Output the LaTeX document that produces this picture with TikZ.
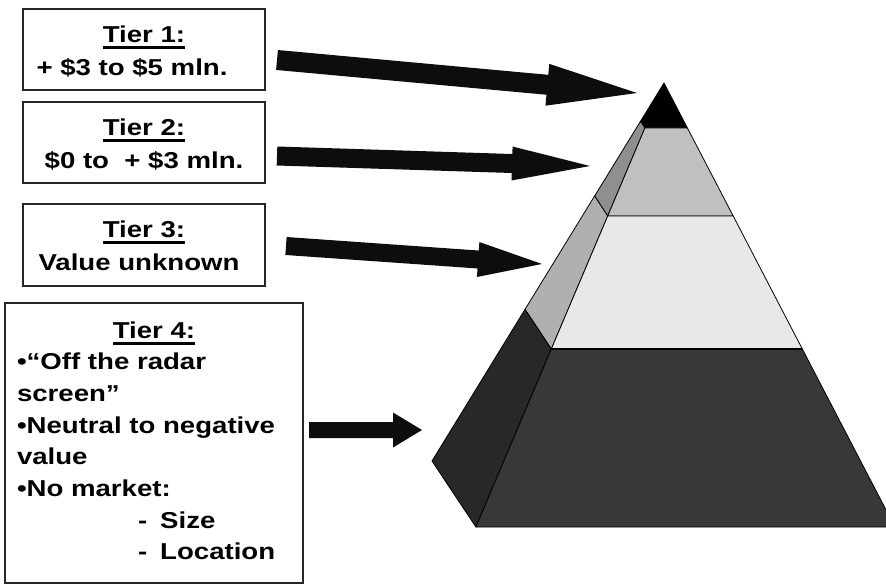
\documentclass[tikz,border=0pt]{standalone}
\usepackage{fontspec}
\setmainfont{Liberation Sans}[FakeStretch=1.2]
\usetikzlibrary{calc}
\definecolor{arrowblack}{HTML}{0D0D0D}
\definecolor{ftwo}{HTML}{C0C0C0}
\definecolor{ltwo}{HTML}{8F8F8F}
\definecolor{fthree}{HTML}{E8E8E8}
\definecolor{lthree}{HTML}{B0B0B0}
\definecolor{ffour}{HTML}{383838}
\definecolor{lfour}{HTML}{282828}
\newsavebox\tierbox
\newcommand\tierul[1]{\sbox\tierbox{#1}\rlap{\usebox\tierbox}\rule[-6.7pt]{\wd\tierbox}{3pt}}
% start, end, shaft half width, head half width, head length
\newcommand\blockarrow[5]{%
  \coordinate (hb) at ($(#2)!#5!(#1)$);
  \fill[arrowfill] ($(#1)!#3!90:(#2)$) -- ($(hb)!#3!90:(#2)$) -- ($(hb)!#4!90:(#2)$)
    -- (#2) -- ($(hb)!#4!-90:(#2)$) -- ($(hb)!#3!-90:(#2)$) -- ($(#1)!#3!-90:(#2)$) -- cycle;}
\begin{document}
\begin{tikzpicture}[x=1pt,y=-1pt,
  tierbox/.style={draw=black!85, line width=1.6pt, fill=white, inner sep=0pt, align=center,
    text height=51.6pt, text depth=0pt,
    font=\fontsize{23}{33}\selectfont\bfseries},
  arrowfill/.style={fill=arrowblack},
  face/.style={draw=black, line width=0.8pt, line join=round}]
\useasboundingbox (0,0) rectangle (886,585);
\clip (0,0) rectangle (886,585);

% boxes
\node[tierbox, minimum width=242pt, minimum height=81pt] (tier1) at (144,49.5)
  {\tierul{Tier 1:}\\+ \$3 to \$5 mln.\hspace*{24pt}};
\node[tierbox, minimum width=242pt, minimum height=81pt] (tier2) at (144,142.5)
  {\tierul{Tier 2:}\\\$0 to~ + \$3 mln.};
\node[tierbox, minimum width=242pt, minimum height=82pt] (tier3) at (144,245)
  {\tierul{Tier 3:}\\Value unknown\hspace*{10pt}};
\node[tierbox, align=left, text width=274pt, inner xsep=12pt, minimum height=280pt,
  text height=16.5pt, text depth=226.5pt,
  font=\fontsize{23}{31.7}\selectfont\bfseries] (tier4) at (154,443)
  {\makebox[\hsize]{\tierul{Tier 4:}}\\
   •“Off the radar\\
   screen”\\
   •Neutral to negative\\
   value\\
   •No market:\\
   \hspace*{121pt}-\hspace{13pt}Size\\
   \hspace*{121pt}-\hspace{13pt}Location};

% pyramid
\coordinate (apex) at (664,83);
\coordinate (f1) at (644.9,128);  \coordinate (r1) at (687.4,128);
\coordinate (f2) at (607.7,216);  \coordinate (r2) at (733.2,216);
\coordinate (f3) at (551.3,349);  \coordinate (r3) at (802.3,349);
\coordinate (f4) at (475.9,527);  \coordinate (r4) at (894.9,527);
\coordinate (l1) at (640.5,121.3);
\coordinate (l2) at (594.6,196);
\coordinate (l3) at (525,309.4);
\coordinate (l4) at (432,461);

\filldraw[face, fill=black] (apex) -- (l1) -- (f1) -- cycle;
\filldraw[face, fill=black] (apex) -- (f1) -- (r1) -- cycle;
\filldraw[face, fill=ltwo] (l1) -- (f1) -- (f2) -- (l2) -- cycle;
\filldraw[face, fill=ftwo] (f1) -- (r1) -- (r2) -- (f2) -- cycle;
\filldraw[face, fill=lthree] (l2) -- (f2) -- (f3) -- (l3) -- cycle;
\filldraw[face, fill=fthree] (f2) -- (r2) -- (r3) -- (f3) -- cycle;
\filldraw[face, fill=lfour] (l3) -- (f3) -- (f4) -- (l4) -- cycle;
\filldraw[face, fill=ffour] (f3) -- (r3) -- (r4) -- (f4) -- cycle;
\draw[line width=1.6pt] (f3) -- (r3);

% arrows
\coordinate (a1s) at (277,60);  \coordinate (a1e) at (637,93);
\coordinate (a2s) at (277,156); \coordinate (a2e) at (590,166);
\coordinate (a3s) at (286,246); \coordinate (a3e) at (542,264);
\coordinate (a4s) at (309,430); \coordinate (a4e) at (422,430);
\blockarrow{a1s}{a1e}{10pt}{21pt}{90pt}
\blockarrow{a2s}{a2e}{9.5pt}{17pt}{78pt}
\blockarrow{a3s}{a3e}{9pt}{17.5pt}{64pt}
\blockarrow{a4s}{a4e}{8pt}{17.5pt}{29pt}
\end{tikzpicture}
\end{document}
